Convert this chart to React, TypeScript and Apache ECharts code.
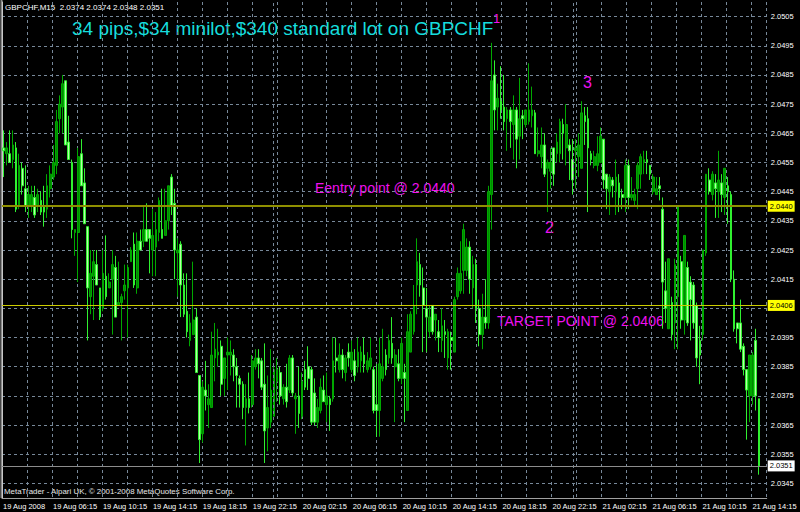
import React, { useEffect, useRef } from "react";
import * as echarts from "echarts";

const symbol = "GBPCHF";
const timeframe = "M15";

// [open, high, low, close] per 15-minute bar, first bar 19 Aug 2008 02:15
const ohlc: [number, number, number, number][] = [
  [2.0460, 2.0466, 2.0450, 2.0459], [2.0458, 2.0462, 2.0454, 2.0460], [2.0458, 2.0466, 2.0455, 2.0455], [2.0456, 2.0466, 2.0453, 2.0461],
  [2.0460, 2.0462, 2.0438, 2.0439], [2.0440, 2.0458, 2.0439, 2.0454], [2.0453, 2.0455, 2.0444, 2.0447], [2.0446, 2.0454, 2.0438, 2.0440],
  [2.0440, 2.0447, 2.0436, 2.0444], [2.0440, 2.0447, 2.0438, 2.0444], [2.0443, 2.0447, 2.0436, 2.0437], [2.0440, 2.0446, 2.0438, 2.0444],
  [2.0442, 2.0445, 2.0437, 2.0438], [2.0440, 2.0447, 2.0433, 2.0438], [2.0439, 2.0451, 2.0436, 2.0447], [2.0446, 2.0454, 2.0443, 2.0451],
  [2.0450, 2.0461, 2.0449, 2.0455], [2.0454, 2.0473, 2.0451, 2.0469], [2.0470, 2.0478, 2.0465, 2.0475], [2.0474, 2.0485, 2.0465, 2.0482],
  [2.0483, 2.0483, 2.0461, 2.0461], [2.0462, 2.0471, 2.0456, 2.0456], [2.0455, 2.0456, 2.0429, 2.0432], [2.0431, 2.0432, 2.0423, 2.0432],
  [2.0431, 2.0460, 2.0414, 2.0457], [2.0458, 2.0463, 2.0447, 2.0447], [2.0448, 2.0453, 2.0434, 2.0434], [2.0433, 2.0433, 2.0394, 2.0412],
  [2.0409, 2.0425, 2.0403, 2.0417], [2.0416, 2.0425, 2.0401, 2.0421], [2.0420, 2.0425, 2.0413, 2.0413], [2.0412, 2.0412, 2.0401, 2.0402],
  [2.0405, 2.0425, 2.0404, 2.0417], [2.0416, 2.0430, 2.0408, 2.0409], [2.0412, 2.0417, 2.0412, 2.0414], [2.0415, 2.0425, 2.0396, 2.0420],
  [2.0419, 2.0423, 2.0402, 2.0402], [2.0406, 2.0421, 2.0406, 2.0407], [2.0407, 2.0410, 2.0394, 2.0409], [2.0411, 2.0420, 2.0408, 2.0413],
  [2.0412, 2.0420, 2.0395, 2.0419], [2.0421, 2.0426, 2.0421, 2.0425], [2.0427, 2.0431, 2.0412, 2.0413], [2.0412, 2.0431, 2.0410, 2.0428],
  [2.0428, 2.0432, 2.0425, 2.0425], [2.0428, 2.0440, 2.0426, 2.0432], [2.0432, 2.0441, 2.0428, 2.0428], [2.0432, 2.0432, 2.0417, 2.0429],
  [2.0425, 2.0439, 2.0416, 2.0430], [2.0426, 2.0438, 2.0416, 2.0432], [2.0431, 2.0443, 2.0428, 2.0442], [2.0432, 2.0446, 2.0429, 2.0429],
  [2.0430, 2.0446, 2.0430, 2.0435], [2.0435, 2.0447, 2.0432, 2.0447], [2.0450, 2.0451, 2.0437, 2.0440], [2.0441, 2.0446, 2.0415, 2.0425],
  [2.0424, 2.0429, 2.0409, 2.0425], [2.0427, 2.0428, 2.0402, 2.0413], [2.0413, 2.0417, 2.0402, 2.0403], [2.0404, 2.0417, 2.0395, 2.0397],
  [2.0394, 2.0403, 2.0392, 2.0400], [2.0396, 2.0421, 2.0396, 2.0401], [2.0402, 2.0405, 2.0383, 2.0383], [2.0382, 2.0382, 2.0352, 2.0360],
  [2.0362, 2.0380, 2.0359, 2.0378], [2.0377, 2.0387, 2.0370, 2.0375], [2.0372, 2.0379, 2.0364, 2.0374], [2.0371, 2.0397, 2.0371, 2.0389],
  [2.0388, 2.0400, 2.0380, 2.0391], [2.0389, 2.0398, 2.0385, 2.0390], [2.0392, 2.0394, 2.0375, 2.0379], [2.0381, 2.0388, 2.0375, 2.0388],
  [2.0389, 2.0395, 2.0377, 2.0390], [2.0389, 2.0394, 2.0382, 2.0390], [2.0389, 2.0391, 2.0380, 2.0385], [2.0385, 2.0388, 2.0371, 2.0382],
  [2.0381, 2.0382, 2.0371, 2.0379], [2.0379, 2.0380, 2.0367, 2.0371], [2.0371, 2.0379, 2.0358, 2.0374], [2.0374, 2.0383, 2.0369, 2.0371],
  [2.0372, 2.0389, 2.0371, 2.0387], [2.0385, 2.0391, 2.0384, 2.0388], [2.0388, 2.0391, 2.0381, 2.0386], [2.0387, 2.0388, 2.0377, 2.0378],
  [2.0379, 2.0393, 2.0352, 2.0363], [2.0364, 2.0382, 2.0356, 2.0371], [2.0366, 2.0391, 2.0364, 2.0377], [2.0368, 2.0385, 2.0368, 2.0384],
  [2.0380, 2.0388, 2.0373, 2.0384], [2.0383, 2.0385, 2.0372, 2.0375], [2.0374, 2.0379, 2.0372, 2.0378], [2.0378, 2.0386, 2.0371, 2.0373],
  [2.0377, 2.0389, 2.0376, 2.0388], [2.0388, 2.0389, 2.0375, 2.0376], [2.0374, 2.0376, 2.0362, 2.0375], [2.0375, 2.0385, 2.0364, 2.0369],
  [2.0368, 2.0383, 2.0367, 2.0380], [2.0384, 2.0387, 2.0377, 2.0378], [2.0385, 2.0392, 2.0377, 2.0381], [2.0384, 2.0385, 2.0365, 2.0366],
  [2.0376, 2.0381, 2.0365, 2.0366], [2.0366, 2.0374, 2.0364, 2.0371], [2.0370, 2.0381, 2.0369, 2.0378], [2.0377, 2.0382, 2.0373, 2.0373],
  [2.0372, 2.0383, 2.0366, 2.0375], [2.0374, 2.0375, 2.0363, 2.0372], [2.0374, 2.0395, 2.0373, 2.0387], [2.0388, 2.0395, 2.0383, 2.0387],
  [2.0384, 2.0393, 2.0383, 2.0389], [2.0389, 2.0391, 2.0381, 2.0384], [2.0383, 2.0389, 2.0380, 2.0388], [2.0390, 2.0393, 2.0385, 2.0388],
  [2.0384, 2.0394, 2.0383, 2.0390], [2.0387, 2.0391, 2.0380, 2.0382], [2.0385, 2.0395, 2.0383, 2.0390], [2.0387, 2.0392, 2.0383, 2.0390],
  [2.0389, 2.0395, 2.0383, 2.0386], [2.0384, 2.0390, 2.0383, 2.0387], [2.0385, 2.0395, 2.0384, 2.0388], [2.0384, 2.0385, 2.0369, 2.0370],
  [2.0372, 2.0386, 2.0361, 2.0370], [2.0370, 2.0395, 2.0361, 2.0386], [2.0381, 2.0398, 2.0380, 2.0385], [2.0389, 2.0391, 2.0382, 2.0384],
  [2.0388, 2.0396, 2.0386, 2.0394], [2.0393, 2.0402, 2.0386, 2.0388], [2.0385, 2.0391, 2.0366, 2.0389], [2.0386, 2.0391, 2.0380, 2.0381],
  [2.0381, 2.0395, 2.0379, 2.0393], [2.0383, 2.0386, 2.0366, 2.0381], [2.0370, 2.0403, 2.0370, 2.0397], [2.0390, 2.0404, 2.0390, 2.0403],
  [2.0397, 2.0413, 2.0396, 2.0406], [2.0413, 2.0429, 2.0403, 2.0421], [2.0420, 2.0424, 2.0409, 2.0413], [2.0412, 2.0419, 2.0390, 2.0406],
  [2.0405, 2.0412, 2.0390, 2.0402], [2.0397, 2.0406, 2.0395, 2.0402], [2.0406, 2.0406, 2.0396, 2.0397], [2.0401, 2.0403, 2.0394, 2.0403],
  [2.0397, 2.0401, 2.0390, 2.0395], [2.0394, 2.0405, 2.0390, 2.0399], [2.0397, 2.0401, 2.0388, 2.0396], [2.0388, 2.0398, 2.0384, 2.0397],
  [2.0395, 2.0397, 2.0384, 2.0394], [2.0390, 2.0409, 2.0390, 2.0408], [2.0409, 2.0419, 2.0408, 2.0417], [2.0411, 2.0428, 2.0410, 2.0417],
  [2.0418, 2.0434, 2.0410, 2.0432], [2.0418, 2.0429, 2.0416, 2.0426], [2.0426, 2.0428, 2.0410, 2.0415], [2.0412, 2.0423, 2.0405, 2.0420],
  [2.0420, 2.0422, 2.0400, 2.0405], [2.0405, 2.0408, 2.0392, 2.0396], [2.0396, 2.0410, 2.0391, 2.0402], [2.0402, 2.0415, 2.0398, 2.0400],
  [2.0400, 2.0447, 2.0398, 2.0445], [2.0444, 2.0496, 2.0432, 2.0483], [2.0485, 2.0490, 2.0466, 2.0473], [2.0474, 2.0482, 2.0466, 2.0477],
  [2.0476, 2.0488, 2.0470, 2.0473], [2.0474, 2.0485, 2.0466, 2.0469], [2.0470, 2.0474, 2.0459, 2.0473], [2.0473, 2.0474, 2.0460, 2.0469],
  [2.0468, 2.0478, 2.0456, 2.0473], [2.0473, 2.0474, 2.0453, 2.0463], [2.0464, 2.0484, 2.0456, 2.0470], [2.0471, 2.0473, 2.0463, 2.0470],
  [2.0468, 2.0473, 2.0467, 2.0473], [2.0469, 2.0489, 2.0468, 2.0473], [2.0471, 2.0481, 2.0467, 2.0473], [2.0472, 2.0473, 2.0458, 2.0458],
  [2.0458, 2.0467, 2.0457, 2.0459], [2.0457, 2.0467, 2.0453, 2.0461], [2.0461, 2.0465, 2.0450, 2.0451], [2.0453, 2.0456, 2.0438, 2.0455],
  [2.0452, 2.0460, 2.0446, 2.0455], [2.0460, 2.0460, 2.0447, 2.0451], [2.0458, 2.0465, 2.0455, 2.0462], [2.0458, 2.0470, 2.0455, 2.0469],
  [2.0468, 2.0470, 2.0456, 2.0465], [2.0460, 2.0475, 2.0454, 2.0468], [2.0461, 2.0463, 2.0449, 2.0459], [2.0456, 2.0463, 2.0444, 2.0449],
  [2.0459, 2.0463, 2.0446, 2.0460], [2.0457, 2.0465, 2.0450, 2.0461], [2.0453, 2.0476, 2.0453, 2.0472], [2.0471, 2.0474, 2.0461, 2.0469],
  [2.0470, 2.0474, 2.0438, 2.0460], [2.0458, 2.0459, 2.0454, 2.0456], [2.0454, 2.0459, 2.0453, 2.0457], [2.0454, 2.0464, 2.0452, 2.0458],
  [2.0455, 2.0467, 2.0455, 2.0464], [2.0463, 2.0463, 2.0446, 2.0449], [2.0451, 2.0451, 2.0439, 2.0446], [2.0445, 2.0451, 2.0437, 2.0450],
  [2.0449, 2.0450, 2.0443, 2.0447], [2.0445, 2.0456, 2.0437, 2.0450], [2.0448, 2.0451, 2.0438, 2.0443], [2.0444, 2.0446, 2.0439, 2.0443],
  [2.0443, 2.0456, 2.0438, 2.0454], [2.0454, 2.0456, 2.0439, 2.0443], [2.0443, 2.0450, 2.0442, 2.0444], [2.0442, 2.0446, 2.0440, 2.0444],
  [2.0446, 2.0455, 2.0439, 2.0454], [2.0451, 2.0458, 2.0446, 2.0457], [2.0455, 2.0459, 2.0451, 2.0456], [2.0456, 2.0459, 2.0451, 2.0455],
  [2.0454, 2.0454, 2.0449, 2.0451], [2.0445, 2.0451, 2.0444, 2.0450], [2.0444, 2.0450, 2.0444, 2.0446], [2.0447, 2.0450, 2.0442, 2.0446],
  [2.0439, 2.0443, 2.0398, 2.0414], [2.0411, 2.0421, 2.0400, 2.0405], [2.0398, 2.0422, 2.0398, 2.0422], [2.0407, 2.0409, 2.0394, 2.0396],
  [2.0400, 2.0422, 2.0391, 2.0420], [2.0409, 2.0440, 2.0391, 2.0440], [2.0421, 2.0423, 2.0398, 2.0401], [2.0401, 2.0430, 2.0396, 2.0430],
  [2.0419, 2.0421, 2.0399, 2.0400], [2.0414, 2.0416, 2.0394, 2.0408], [2.0413, 2.0414, 2.0398, 2.0400], [2.0406, 2.0407, 2.0385, 2.0388],
  [2.0394, 2.0399, 2.0379, 2.0389], [2.0396, 2.0425, 2.0394, 2.0425], [2.0424, 2.0451, 2.0423, 2.0451], [2.0449, 2.0453, 2.0444, 2.0445],
  [2.0444, 2.0452, 2.0442, 2.0451], [2.0448, 2.0451, 2.0436, 2.0446], [2.0445, 2.0459, 2.0436, 2.0449], [2.0448, 2.0451, 2.0438, 2.0444],
  [2.0443, 2.0453, 2.0437, 2.0453], [2.0447, 2.0450, 2.0434, 2.0445], [2.0444, 2.0445, 2.0414, 2.0415], [2.0415, 2.0418, 2.0397, 2.0398],
  [2.0400, 2.0400, 2.0393, 2.0398], [2.0400, 2.0408, 2.0390, 2.0391], [2.0392, 2.0393, 2.0382, 2.0384], [2.0384, 2.0384, 2.0360, 2.0377],
  [2.0375, 2.0389, 2.0366, 2.0389], [2.0375, 2.0390, 2.0372, 2.0389], [2.0394, 2.0398, 2.0370, 2.0375], [2.0374, 2.0374, 2.0348, 2.0351],
];

const slotCount = 246; // bar slots across the chart width (a few empty at the right)
const timeTickLabels = [
  "19 Aug 2008", "19 Aug 06:15", "19 Aug 10:15", "19 Aug 14:15", "19 Aug 18:15", "19 Aug 22:15",
  "20 Aug 02:15", "20 Aug 06:15", "20 Aug 10:15", "20 Aug 14:15", "20 Aug 18:15", "20 Aug 22:15",
  "21 Aug 02:15", "21 Aug 06:15", "21 Aug 10:15", "21 Aug 14:15",
];
const gridEveryBars = 8;
const labelEveryBars = 16;
const daySeparatorBars = [87, 183];
const priceMin = 2.034;
const priceMax = 2.051;
const priceStep = 0.0005;
const entryPrice = 2.044;
const targetPrice = 2.0406;
const titleText = "34 pips,$34 minilot,$340 standard lot on GBPCHF";

const MONTHS = ["Jan", "Feb", "Mar", "Apr", "May", "Jun", "Jul", "Aug", "Sep", "Oct", "Nov", "Dec"];
const pad = (n: number) => (n < 10 ? "0" + n : "" + n);
const barTimes = Array.from({ length: slotCount }, (_, i) => {
  const d = new Date(Date.UTC(2008, 7, 19, 2, 15) + i * 15 * 60000);
  return `${d.getUTCDate()} ${MONTHS[d.getUTCMonth()]} ${pad(d.getUTCHours())}:${pad(d.getUTCMinutes())}`;
});

const FONT = '"Liberation Sans", Arial, sans-serif';
const GRID_COLOR = "#778899";
const MAGENTA = "#f010f0";

export default function App() {
  const ref = useRef<HTMLDivElement>(null);

  useEffect(() => {
    document.body.style.margin = "0";
    if (!ref.current) return;
    const chart = echarts.init(ref.current, undefined, { renderer: "svg" });
    const last = ohlc[ohlc.length - 1];
    const lastPrice = last[3];
    const markedPrices = [entryPrice, targetPrice, lastPrice];
    const gridWidth = 770;
    const barsAcross = gridWidth / 3.144;

    const priceLabel = (bg: string) => ({
      show: true,
      position: "end" as const,
      distance: 1,
      formatter: (p: any) => Number(p.value).toFixed(4),
      backgroundColor: bg,
      color: "#000",
      fontSize: 7.5,
      fontFamily: FONT,
      padding: [2, 2, 1, 2],
    });

    chart.setOption({
      animation: false,
      backgroundColor: "#000000",
      grid: { left: 2, right: 28, top: 2, bottom: 14, containLabel: false },
      xAxis: [
        {
          type: "category",
          data: barTimes,
          boundaryGap: true,
          show: false,
        },
        {
          type: "value",
          min: 0,
          max: barsAcross,
          interval: gridEveryBars,
          position: "bottom",
          axisLine: { show: true, lineStyle: { color: "#a0a0a0", width: 1 } },
          axisTick: { show: false },
          splitLine: { show: true, lineStyle: { color: GRID_COLOR, type: [3, 3], width: 1 } },
          axisLabel: {
            color: "#ffffff",
            fontSize: 7.5,
            fontFamily: FONT,
            align: "left",
            margin: 4,
            padding: [0, 0, 0, 1],
            showMaxLabel: false,
            formatter: (v: number) => {
              const r = Math.round(v);
              if (Math.abs(v - r) > 1e-6 || r % labelEveryBars !== 0) return "";
              return timeTickLabels[r / labelEveryBars] ?? "";
            },
          },
        },
      ],
      yAxis: {
        type: "value",
        position: "right",
        min: priceMin,
        max: priceMax,
        interval: priceStep,
        axisLine: { show: true, lineStyle: { color: "#c8c8c8", width: 1 } },
        axisTick: { show: false },
        axisLabel: {
          color: "#ffffff",
          fontSize: 7.5,
          fontFamily: FONT,
          margin: 4,
          formatter: (v: number) => {
            const r = Math.round(v * 10000);
            if (r % 10 !== 5) return "";
            const p = r / 10000;
            if (markedPrices.some((m) => Math.abs(m - p) < 0.0003)) return "";
            return p.toFixed(4);
          },
        },
        splitLine: {
          show: true,
          lineStyle: { color: ["rgba(0,0,0,0)", GRID_COLOR], type: [3, 3], width: 1 },
        },
      },
      series: [
        {
          type: "candlestick",
          xAxisIndex: 0,
          yAxisIndex: 0,
          barWidth: 2.2,
          data: ohlc.map(([o, h, l, c]) => [o, c, l, h]),
          itemStyle: {
            color: "#008a00",
            color0: "#b8ffa8",
            borderColor: "#00a800",
            borderColor0: "#30f030",
            borderWidth: 1,
          },
        },
        {
          type: "line",
          xAxisIndex: 1,
          yAxisIndex: 0,
          data: [],
          markLine: {
            silent: true,
            precision: 4,
            symbol: ["none", "none"],
            animation: false,
            data: [
              ...daySeparatorBars.map((b) => ({
                xAxis: b,
                label: { show: false },
                lineStyle: { color: GRID_COLOR, type: [3, 3] as any, width: 1 },
              })),
              { yAxis: entryPrice, lineStyle: { color: "#8f8f00", width: 2, type: "solid" }, label: priceLabel("#ffff00") },
              { yAxis: targetPrice, lineStyle: { color: "#cccc00", width: 1, type: "solid" }, label: priceLabel("#ffff00") },
              { yAxis: lastPrice, lineStyle: { color: "#8c8c8c", width: 1, type: "solid" }, label: priceLabel("#ffffff") },
            ],
          },
        },
      ],
      graphic: [
        { type: "line", shape: { x1: 1.5, y1: 0, x2: 1.5, y2: 498 }, style: { stroke: "#8a8a8a", lineWidth: 2 }, silent: true },
        {
          type: "text", left: 5, top: 3, silent: true,
          style: { text: `${symbol},${timeframe}  ${last.map((v) => v.toFixed(4)).join(" ")}`, fill: "#ffffff", font: `8px ${FONT}` },
        },
        { type: "text", left: 72, top: 19, silent: true, style: { text: titleText, fill: "#16dede", font: `19px ${FONT}` } },
        { type: "text", left: 493, top: 12, silent: true, style: { text: "1", fill: MAGENTA, font: `13px ${FONT}` } },
        { type: "text", left: 315, top: 181, silent: true, style: { text: `Eentry point @ ${entryPrice.toFixed(4)}`, fill: MAGENTA, font: `14px ${FONT}` } },
        { type: "text", left: 497, top: 314, silent: true, style: { text: `TARGET POINT @ ${targetPrice.toFixed(4)}`, fill: MAGENTA, font: `14px ${FONT}` } },
        { type: "text", left: 545, top: 219, silent: true, style: { text: "2", fill: MAGENTA, font: `16px ${FONT}` } },
        { type: "text", left: 583, top: 74, silent: true, style: { text: "3", fill: MAGENTA, font: `16px ${FONT}` } },
        {
          type: "text", left: 4, top: 487, silent: true,
          style: { text: "MetaTrader - Alpari UK, © 2001-2008 MetaQuotes Software Corp.", fill: "#e8e8e8", font: `7.9px ${FONT}` },
        },
      ],
    });

    return () => chart.dispose();
  }, []);

  return <div ref={ref} style={{ width: 800, height: 512, background: "#000" }} />;
}
